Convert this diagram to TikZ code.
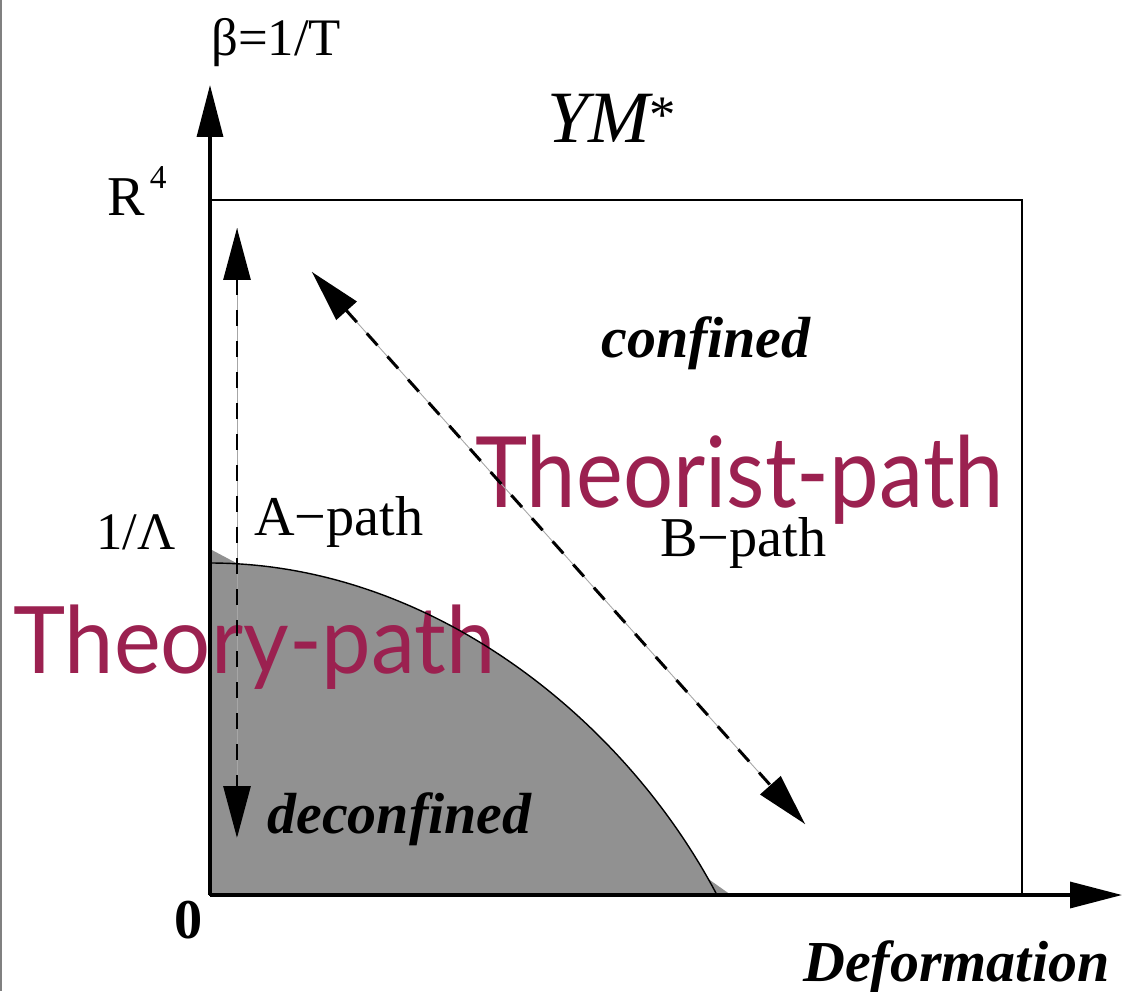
\documentclass[tikz,border=0pt]{standalone}
\usepackage{fontspec}
\setmainfont{Liberation Serif}
\newfontfamily\theofont{Lato}
\usetikzlibrary{arrows.meta}
\definecolor{theomaroon}{RGB}{155,33,80}
\definecolor{regiongray}{RGB}{145,145,145}
\begin{document}
\begin{tikzpicture}[x=0.02cm,y=-0.02cm,
  axisline/.style={line width=1.9pt,-{Triangle[length=1.04cm,width=0.52cm]}},
  frameline/.style={line width=1.2pt},
  guideline/.style={gray!70,line width=0.5pt},
  dashline/.style={line width=1.7pt,dash pattern=on 0.32cm off 0.3cm},
  twotips/.style={{Triangle[length=1.04cm,width=0.54cm]}-{Triangle[length=1.04cm,width=0.54cm]}},
  lbl/.style={inner sep=0pt,anchor=base west,font=\fontsize{32}{36}\selectfont},
  boldlbl/.style={inner sep=0pt,anchor=base west,font=\bfseries\itshape\fontsize{33}{36}\selectfont},
  theolbl/.style={inner sep=0pt,anchor=base west,text=theomaroon}
]
\useasboundingbox (0,0) rectangle (1136,991);
\fill[white] (0,0) rectangle (1136,991);
\draw[gray,line width=1pt] (1,0) -- (1,991);

% coordinates
\coordinate (O) at (210,895);
\coordinate (ytop) at (210,85);
\coordinate (xright) at (1122,895);
\coordinate (boxTL) at (210,200);
\coordinate (boxBR) at (1022,895);
\coordinate (Atop) at (237,228);
\coordinate (Abot) at (237,838);
\coordinate (Btop) at (312,272);
\coordinate (Bbot) at (805,824);
\coordinate (cstart) at (210,563);
\coordinate (cend) at (717,895);

% deconfined region
\fill[regiongray] (O) -- (cstart) .. controls (430,563) and (624,718) .. (cend) -- cycle;
\fill[regiongray] (210,549) -- (242,566) -- (210,563) -- cycle;
\fill[regiongray] (707,878) -- (731,895) -- (716,895) -- cycle;

% maroon overlay labels
\node[theolbl,font=\theofont\fontsize{56}{60}\selectfont] (theorist) at (475,507) {\scalebox{0.9}[1]{Theorist-path}};
\node[theolbl,font=\theofont\fontsize{53}{58}\selectfont] (theory) at (13,673) {\scalebox{0.95}[1]{Theory-path}};

% boundary curve
\draw[line width=0.8pt] (cstart) .. controls (430,563) and (624,718) .. (cend);

% frame and axes
\draw[frameline] (boxTL) rectangle (boxBR);
\draw[axisline] (O) -- (ytop);
\draw[axisline] (O) -- (xright);

% A-path and B-path
\draw[guideline] (Atop) -- (Abot);
\draw[dashline,twotips] (Atop) -- (Abot);
\draw[guideline] (Btop) -- (Bbot);
\draw[dashline,twotips] (Btop) -- (Bbot);

% labels
\node[lbl,font=\fontsize{30}{34}\selectfont] (beta) at (211,55) {β=1/T};
\node[lbl,font=\itshape\fontsize{42}{46}\selectfont] (ym) at (547,142) {YM\raisebox{0.2cm}{\upshape\fontsize{30}{30}\selectfont *}};
\node[lbl] (rfour) at (107,215) {R\hspace{0.1cm}\raisebox{0.54cm}{\fontsize{19}{19}\selectfont 4}};
\node[lbl,font=\fontsize{30}{34}\selectfont] (lambda) at (96,549) {1/Λ};
\node[lbl] (apath) at (254,535) {A−path};
\node[lbl] (bpath) at (660,556) {B−path};
\node[boldlbl] (confined) at (601,357) {confined};
\node[boldlbl] (deconfined) at (267,833) {deconfined};
\node[boldlbl] (deformation) at (803,981) {Deformation};
\node[lbl,font=\bfseries\fontsize{32}{36}\selectfont] (zero) at (174,938) {0};
\end{tikzpicture}
\end{document}
